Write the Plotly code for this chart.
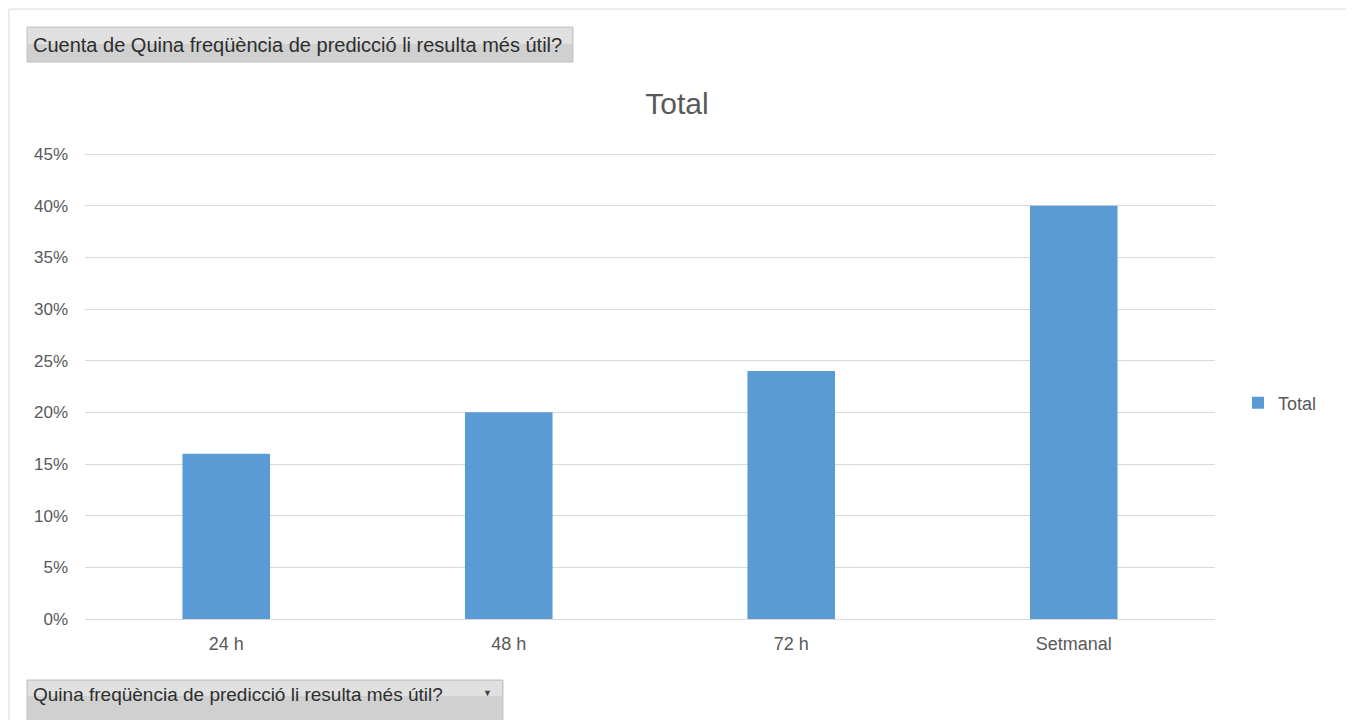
import plotly.graph_objects as go

categories = ["24 h", "48 h", "72 h", "Setmanal"]
values = [0.16, 0.20, 0.24, 0.40]
series_name = "Total"
tick_vals = [0, 0.05, 0.10, 0.15, 0.20, 0.25, 0.30, 0.35, 0.40, 0.45]
tick_text = ["0%", "5%", "10%", "15%", "20%", "25%", "30%", "35%", "40%", "45%"]
y_max = 0.452

# page body adds an 8px margin; work in reference pixel coordinates
OFF = 8
W, H = 1354 - OFF, 720 - OFF
PL, PR, PB = 85, 1215, 619          # plot area edges in reference pixels
PT = PB - (PB - 154) * y_max / 0.45  # 45% gridline sits at y=154
L, T = PL - OFF, PT - OFF
R, B = W - (PR - OFF), H - (PB - OFF)
PW, PH = PR - PL, PB - PT


def px(x):
    return (x - PL) / PW


def py(y):
    return (PB - y) / PH


FONT = "Liberation Sans"
GREY = "#595959"

fig = go.Figure()
fig.add_trace(go.Bar(
    x=categories, y=values, name=series_name,
    marker=dict(color="#5B9BD5", line=dict(width=0)),
    showlegend=True,
))

shapes = [
    dict(type="rect", xref="paper", yref="paper",
         x0=px(9), x1=px(1347), y0=py(740), y1=py(9),
         line=dict(color="#d9d9d9", width=1), fillcolor="rgba(0,0,0,0)", layer="below"),
    dict(type="rect", xref="paper", yref="paper",
         x0=px(27), x1=px(573), y0=py(62), y1=py(27),
         line=dict(color="#c4c4c4", width=1), fillcolor="#d0d0d0", layer="below"),
    dict(type="rect", xref="paper", yref="paper",
         x0=px(28), x1=px(572), y0=py(44), y1=py(28),
         line=dict(width=0), fillcolor="#e0e0e0", layer="below"),
    dict(type="rect", xref="paper", yref="paper",
         x0=px(27), x1=px(503), y0=py(740), y1=py(680),
         line=dict(color="#c4c4c4", width=1), fillcolor="#d0d0d0", layer="below"),
    dict(type="rect", xref="paper", yref="paper",
         x0=px(28), x1=px(502), y0=py(696), y1=py(681),
         line=dict(width=0), fillcolor="#e0e0e0", layer="below"),
]

annotations = [
    dict(text="Cuenta de Quina freqüència de predicció li resulta més útil?",
         xref="paper", yref="paper", x=px(31), y=py(45), xanchor="left", yanchor="middle",
         showarrow=False, font=dict(family=FONT, size=20, color="#2e2e2e")),
    dict(text="Quina freqüència de predicció li resulta més útil?",
         xref="paper", yref="paper", x=px(31), y=py(695), xanchor="left", yanchor="middle",
         showarrow=False, font=dict(family=FONT, size=19, color="#2e2e2e")),
    dict(text="▼", xref="paper", yref="paper", x=px(487), y=py(693),
         xanchor="center", yanchor="middle", showarrow=False,
         font=dict(family=FONT, size=9, color="#404040")),
]

fig.update_layout(
    width=W, height=H,
    margin=dict(l=L, r=R, t=T, b=B, pad=0),
    paper_bgcolor="white", plot_bgcolor="white",
    title=dict(text="Total", x=(677 - OFF) / W, xref="container", xanchor="center",
               y=1 - (103 - OFF) / H, yanchor="middle", yref="container",
               font=dict(family=FONT, size=30, color=GREY)),
    font=dict(family=FONT, color=GREY, size=18),
    bargap=0.69,
    xaxis=dict(showgrid=False, showline=True, linecolor="#d9d9d9", linewidth=1,
               ticks="", tickfont=dict(size=18, color=GREY), ticklabelstandoff=8),
    yaxis=dict(range=[0, y_max], tickvals=tick_vals, ticktext=tick_text,
               showgrid=True, gridcolor="#d9d9d9", gridwidth=1, zeroline=False,
               showline=False, ticks="", tickfont=dict(size=17, color=GREY),
               ticklabelstandoff=16),
    legend=dict(x=px(1238), y=py(403), xanchor="left", yanchor="middle",
                font=dict(family=FONT, size=18, color=GREY),
                itemwidth=30, bgcolor="rgba(0,0,0,0)"),
    shapes=shapes,
    annotations=annotations,
)

fig.write_html("out.html")
